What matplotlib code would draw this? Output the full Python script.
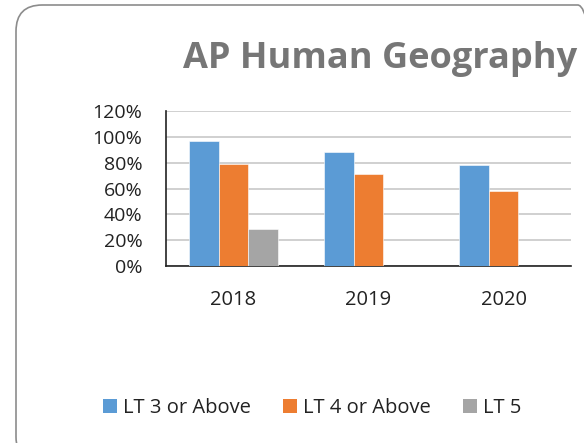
import matplotlib
matplotlib.use("Agg")
import matplotlib.pyplot as plt
import numpy as np
from matplotlib.patches import FancyBboxPatch, Patch

categories = ["2018", "2019", "2020"]
series_names = ["LT 3 or Above", "LT 4 or Above", "LT 5"]
lt3 = [97, 88, 78]
lt4 = [79, 71, 58]
lt5 = [29, None, None]
colors = ["#5B9BD5", "#ED7D31", "#A5A5A5"]
yticks = [0, 20, 40, 60, 80, 100, 120]

plt.rcParams['font.family'] = ['Open Sans', 'DejaVu Sans']

W, H = 584, 443
fig = plt.figure(figsize=(W/100, H/100), dpi=100)

# rounded border
border = FancyBboxPatch((16/W, -20/H), (W+20-16)/W, (H+20-5)/H,
                        boxstyle="round,pad=0,rounding_size=0.045",
                        transform=fig.transFigure, facecolor="none",
                        edgecolor="#8C8C8C", linewidth=1.2, zorder=-5,
                        mutation_aspect=W/H)
fig.patches.append(border)

ax = fig.add_axes([166/W, (H-266)/H, (571-166)/W, (266-111)/H])
ax.set_facecolor("none")
ax.set_zorder(2)
x = np.arange(len(categories))
w = 0.22
data = [lt3, lt4, lt5]
for k, (vals, c) in enumerate(zip(data, colors)):
    xs = [xi + (k-1)*w for xi, v in zip(x, vals) if v is not None]
    vs = [v for v in vals if v is not None]
    ax.bar(xs, vs, width=w, color=c, zorder=3, edgecolor="white", linewidth=0.4)

ax.set_xlim(-0.5, 2.5)
ax.set_ylim(0, 120)
ax.set_yticks(yticks)
ax.set_yticklabels([f"{t}%" for t in yticks])
ax.set_xticks(x)
ax.set_xticklabels(categories)
ax.yaxis.grid(True, color="#C8C8C8", linewidth=1.2, zorder=0)
ax.set_axisbelow(True)
for s in ["top", "right"]:
    ax.spines[s].set_visible(False)
ax.spines["left"].set_color("#222222")
ax.spines["bottom"].set_color("#222222")
ax.spines["left"].set_linewidth(1.2)
ax.spines["bottom"].set_linewidth(1.2)
ax.tick_params(axis="y", length=0, pad=17, labelsize=14, labelcolor="#222222")
ax.tick_params(axis="x", length=0, pad=17, labelsize=14.5, labelcolor="#222222")

fig.text(183/W, 1-59/H, "AP Human Geography", ha="left", va="center",
         fontsize=26, fontweight="bold", color="#767676")

handles = [Patch(facecolor=c, edgecolor="none") for c in colors]
fig.legend(handles, series_names, loc="center", bbox_to_anchor=(0.535, 1-408/H),
           ncol=3, frameon=False, fontsize=14.5, handlelength=0.7, handleheight=0.7,
           handletextpad=0.3, columnspacing=1.6, labelcolor="#222222")

fig.savefig("out.png", dpi=100)
